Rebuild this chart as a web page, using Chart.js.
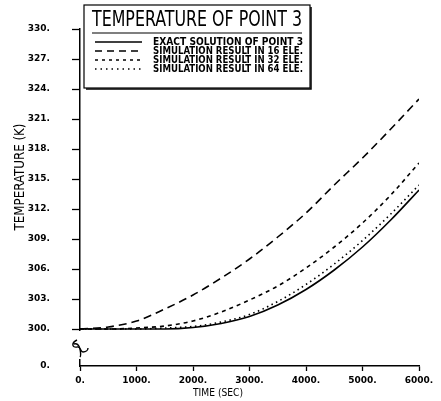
<!DOCTYPE html>
<html>
<head>
<meta charset="utf-8">
<script src="https://cdn.jsdelivr.net/npm/chart.js@4"></script>
<style>
  body { margin: 0; background: #fff; }
  .wrap { width: 441px; height: 401px; position: relative; }
</style>
</head>
<body>
<div class="wrap"><canvas id="tempChart"></canvas></div>
<script>
// values, every 500 s
const timeSec = [0, 500, 1000, 1500, 2000, 2500, 3000, 3500, 4000, 4500, 5000, 5500, 6000];
const exactPoint3 = [300, 300, 300, 300, 300.15, 300.55, 301.25, 302.4, 303.95, 305.9, 308.2, 310.9, 313.9];
const sim16 = [300, 300.2, 300.8, 302.0, 303.4, 305.1, 307.0, 309.2, 311.6, 314.4, 317.1, 320.0, 323.0];
const sim32 = [300, 300, 300.1, 300.3, 300.8, 301.7, 302.9, 304.3, 306.1, 308.2, 310.6, 313.4, 316.6];
const sim64 = [300, 300, 300, 300.1, 300.25, 300.7, 301.45, 302.75, 304.45, 306.5, 308.85, 311.5, 314.4];

const yTickValues = [300, 303, 306, 309, 312, 315, 318, 321, 324, 327, 330];
const xTickValues = [0, 1000, 2000, 3000, 4000, 5000, 6000];
const seriesLabels = [
  "EXACT SOLUTION OF POINT 3",
  "SIMULATION RESULT IN 16 ELE.",
  "SIMULATION RESULT IN 32 ELE.",
  "SIMULATION RESULT IN 64 ELE.",
];
const chartTitle = "TEMPERATURE OF POINT 3";
const BREAK_VALUE = 296.3; // stands in for the "0." below the axis break

const tickFont = { family: "DejaVu Sans", size: 9, weight: "bold" };

function pairs(values) {
  return timeSec.map((t, i) => ({ x: t, y: values[i] }));
}

const seriesData = [exactPoint3, sim16, sim32, sim64];
const dashes = [[], [8, 5], [4, 4], [1.5, 3.5]];

const datasets = seriesData.map((vals, i) => ({
  label: seriesLabels[i],
  data: pairs(vals),
  borderColor: "#000",
  borderWidth: 1.6,
  borderDash: dashes[i],
  pointRadius: 0,
  fill: false,
  cubicInterpolationMode: "monotone",
}));

const paperPlugin = {
  id: "paper",
  beforeDraw(chart) {
    const ctx = chart.ctx;
    ctx.save();
    ctx.fillStyle = "#fff";
    ctx.fillRect(0, 0, chart.width, chart.height);
    ctx.restore();
  },
  afterDraw(chart) {
    const { ctx, chartArea, scales } = chart;
    const y300 = scales.y.getPixelForValue(300);
    const L = chartArea.left;

    ctx.save();
    // axis break
    ctx.fillStyle = "#fff";
    ctx.fillRect(L - 2, y300 + 2, 4, chartArea.bottom - y300 - 9);
    ctx.strokeStyle = "#000";
    ctx.lineWidth = 1.4;
    const by = y300 + 11;
    ctx.beginPath();
    ctx.moveTo(L - 3, by);
    ctx.bezierCurveTo(L - 9, by + 3, L - 8, by + 8, L - 3, by + 7);
    ctx.bezierCurveTo(L + 1, by + 6, L + 0, by + 12, L + 3, by + 12);
    ctx.bezierCurveTo(L + 6, by + 12, L + 8, by + 10, L + 8, by + 8);
    ctx.stroke();
    ctx.beginPath();
    ctx.moveTo(L - 6, by + 4);
    ctx.bezierCurveTo(L - 3, by + 3, L - 1, by + 5, L + 0, by + 9);
    ctx.bezierCurveTo(L + 1, by + 14, L + 1, by + 16, L + 0, by + 17);
    ctx.stroke();

    // legend box
    const bx = 84, bt = 5, bw = 226, bh = 83;
    ctx.lineWidth = 1.2;
    ctx.strokeRect(bx, bt, bw, bh);
    ctx.lineWidth = 1.5;
    ctx.beginPath();
    ctx.moveTo(bx + bw + 1, bt + 2);
    ctx.lineTo(bx + bw + 1, bt + bh + 1);
    ctx.lineTo(bx + 2, bt + bh + 1);
    ctx.stroke();

    ctx.fillStyle = "#000";
    ctx.textBaseline = "middle";
    ctx.textAlign = "left";
    ctx.font = '21px "DejaVu Sans Condensed"';
    ctx.fillText(chartTitle, 92, 21, 210);
    ctx.lineWidth = 1.2;
    ctx.beginPath();
    ctx.moveTo(92, 33);
    ctx.lineTo(302, 33);
    ctx.stroke();

    const rows = [42, 51, 60, 69];
    const legendDash = [[], [7, 5], [3, 4], [1.5, 4]];
    ctx.font = 'bold 11px "DejaVu Sans Condensed"';
    rows.forEach((ry, i) => {
      ctx.setLineDash(legendDash[i]);
      ctx.lineWidth = 1.6;
      ctx.beginPath();
      ctx.moveTo(95, ry);
      ctx.lineTo(142, ry);
      ctx.stroke();
      ctx.setLineDash([]);
      ctx.fillText(chart.data.datasets[i].label, 153, ry + 0.5, 150);
    });

    // axis titles
    ctx.textAlign = "center";
    ctx.font = '10px "DejaVu Sans"';
    ctx.fillText("TIME (SEC)", 218, 393, 50);
    ctx.translate(20, 177);
    ctx.rotate(-Math.PI / 2);
    ctx.font = '14px "DejaVu Sans Condensed"';
    ctx.fillText("TEMPERATURE (K)", 0, 0, 107);
    ctx.restore();
  },
};

const ctx = document.getElementById("tempChart").getContext("2d");
new Chart(ctx, {
  type: "line",
  data: { datasets },
  plugins: [paperPlugin],
  options: {
    responsive: true,
    maintainAspectRatio: false,
    animation: false,
    devicePixelRatio: 1,
    layout: { padding: { top: 29, right: 22, bottom: 0, left: 0 } },
    plugins: {
      legend: { display: false },
      tooltip: { enabled: false },
    },
    scales: {
      x: {
        type: "linear",
        min: 0,
        max: 6000,
        afterFit: (s) => { s.height = 35; },
        afterBuildTicks: (s) => { s.ticks = xTickValues.map((v) => ({ value: v })); },
        ticks: {
          font: tickFont,
          color: "#000",
          padding: 4,
          maxRotation: 0,
          callback: (v) => v + ".",
        },
        grid: { drawOnChartArea: false, tickLength: 5, tickColor: "#000", tickWidth: 1.3 },
        border: { color: "#000", width: 1.5 },
      },
      y: {
        type: "linear",
        min: BREAK_VALUE,
        max: 330,
        afterFit: (s) => { s.width = 80; },
        afterBuildTicks: (s) => {
          s.ticks = [BREAK_VALUE].concat(yTickValues).map((v) => ({ value: v }));
        },
        ticks: {
          font: tickFont,
          color: "#000",
          padding: 22,
          callback: (v) => (v < 300 ? "0." : v + "."),
        },
        grid: {
          drawOnChartArea: false,
          tickLength: 8,
          tickWidth: 1.3,
          tickColor: (c) => (c.tick && c.tick.value < 300 ? "rgba(0,0,0,0)" : "#000"),
        },
        border: { color: "#000", width: 1.5 },
      },
    },
  },
});
</script>
</body>
</html>
